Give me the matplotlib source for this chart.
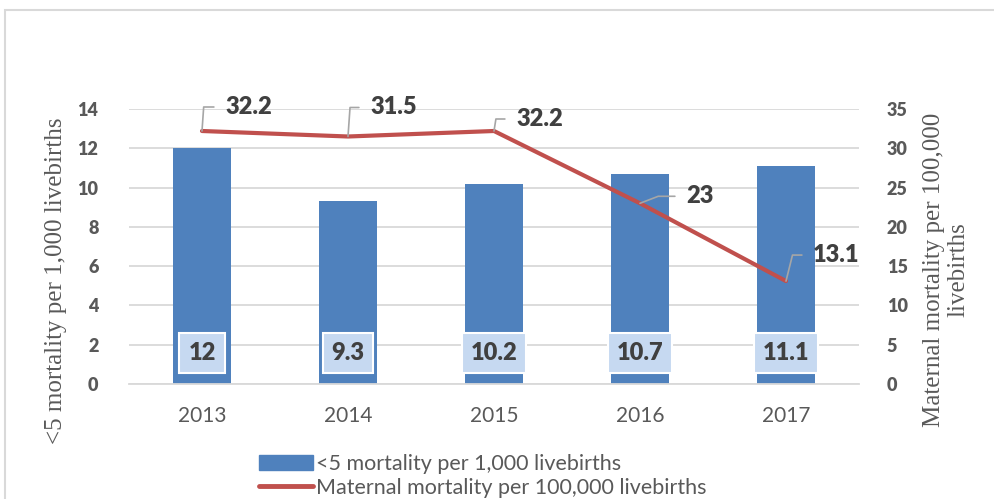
import matplotlib

matplotlib.use("Agg")

import matplotlib.pyplot as plt
from matplotlib.patches import Rectangle, Patch
from matplotlib.lines import Line2D

years = ["2013", "2014", "2015", "2016", "2017"]
under5_mortality = [12, 9.3, 10.2, 10.7, 11.1]
maternal_mortality = [32.2, 31.5, 32.2, 23, 13.1]

# label offsets (pixels) and leader angles for the line labels
label_offsets = [(23, 24), (22, 29), (22, 12), (46, 7), (27, 26)]
leader_angles = [86, 86, 81, 21, 76]

blue = "#4F81BD"
red = "#C0504D"
grey_text = "#595959"
dark_text = "#404040"
grid_color = "#D9D9D9"
heavy = 800

plt.rcParams["font.family"] = ["Lato", "DejaVu Sans"]

fig = plt.figure(figsize=(9.95, 4.99), dpi=100)
ax = fig.add_axes([129 / 995, 1 - 384 / 499, 730 / 995, 275 / 499])
ax2 = ax.twinx()

# outer chart border
fig.patches.append(
    Rectangle((5 / 995, -0.2), 1.2, 0.2 + 1 - 10 / 499, transform=fig.transFigure,
              fill=False, edgecolor=grid_color, linewidth=1.5)
)

x = list(range(len(years)))
ax.bar(x, under5_mortality, width=0.4, color=blue, zorder=2)
ax.set_xlim(-0.5, len(years) - 0.5)
ax.set_ylim(0, 14)
ax.set_yticks(range(0, 15, 2))
ax.yaxis.grid(True, color=grid_color, linewidth=1.3, zorder=0)
ax.set_axisbelow(True)
ax.set_xticks(x)
ax.set_xticklabels(years, fontsize=15, color=grey_text)

for spine in ["top", "right", "left"]:
    ax.spines[spine].set_visible(False)
    ax2.spines[spine].set_visible(False)
ax.spines["bottom"].set_color(grid_color)
ax.spines["bottom"].set_linewidth(1.3)
ax2.spines["bottom"].set_visible(False)

ax.tick_params(axis="both", length=0)
ax.tick_params(axis="y", pad=22, labelsize=13, labelcolor=grey_text)
ax.tick_params(axis="x", pad=16)
for lbl in ax.get_yticklabels():
    lbl.set_fontweight(heavy)

ax.set_ylabel("<5 mortality per 1,000 livebirths", family="Liberation Serif",
              fontsize=18, color=grey_text)
ax.yaxis.set_label_coords((67 - 129) / 730, (384 - 281) / 275)

# bar value labels
for xi, v in zip(x, under5_mortality):
    ax.text(xi, 1.6, f"{v:g}", ha="center", va="center", fontsize=17,
            fontweight=heavy, color=dark_text, zorder=4,
            bbox=dict(boxstyle="square,pad=0.38", facecolor="#C6D9F1",
                      edgecolor="white", linewidth=1.5))

ax2.plot(x, maternal_mortality, color=red, linewidth=3, zorder=3,
         solid_capstyle="round")
ax2.set_ylim(0, 35)
ax2.set_yticks(range(0, 36, 5))
ax2.tick_params(axis="y", length=0, pad=20, labelsize=13, labelcolor=grey_text)
for lbl in ax2.get_yticklabels():
    lbl.set_fontweight(heavy)
ax2.set_ylabel("Maternal mortality per 100,000\nlivebirths", family="Liberation Serif",
               fontsize=18, color=grey_text, linespacing=1.15)
ax2.yaxis.set_label_coords((923 - 129) / 730, (384 - 270) / 275)

for xi, v, (dx, dy), ang in zip(x, maternal_mortality, label_offsets, leader_angles):
    ax2.annotate(f"{v:g}", xy=(xi, v), xytext=(dx, dy), textcoords="offset pixels",
                 ha="left", va="center", fontsize=17, fontweight=heavy,
                 color=dark_text,
                 arrowprops=dict(arrowstyle="-", color="#A6A6A6", linewidth=1.2,
                                 connectionstyle=f"angle,angleA=0,angleB={ang},rad=0",
                                 relpos=(0, 0.5), shrinkA=6, shrinkB=0))

handles = [
    Patch(facecolor=blue, edgecolor=blue),
    Line2D([0], [0], color=red, linewidth=3.5, solid_capstyle="round"),
]
fig.legend(handles, ["<5 mortality per 1,000 livebirths",
                     "Maternal mortality per 100,000 livebirths"],
           loc="upper left", bbox_to_anchor=(259 / 995, 1 - 454 / 499),
           frameon=False, fontsize=15.5, labelcolor=grey_text,
           handlelength=2.5, handleheight=0.7, handletextpad=0.15,
           labelspacing=0.18, borderaxespad=0, borderpad=0)

fig.savefig("out.png", dpi=100)
